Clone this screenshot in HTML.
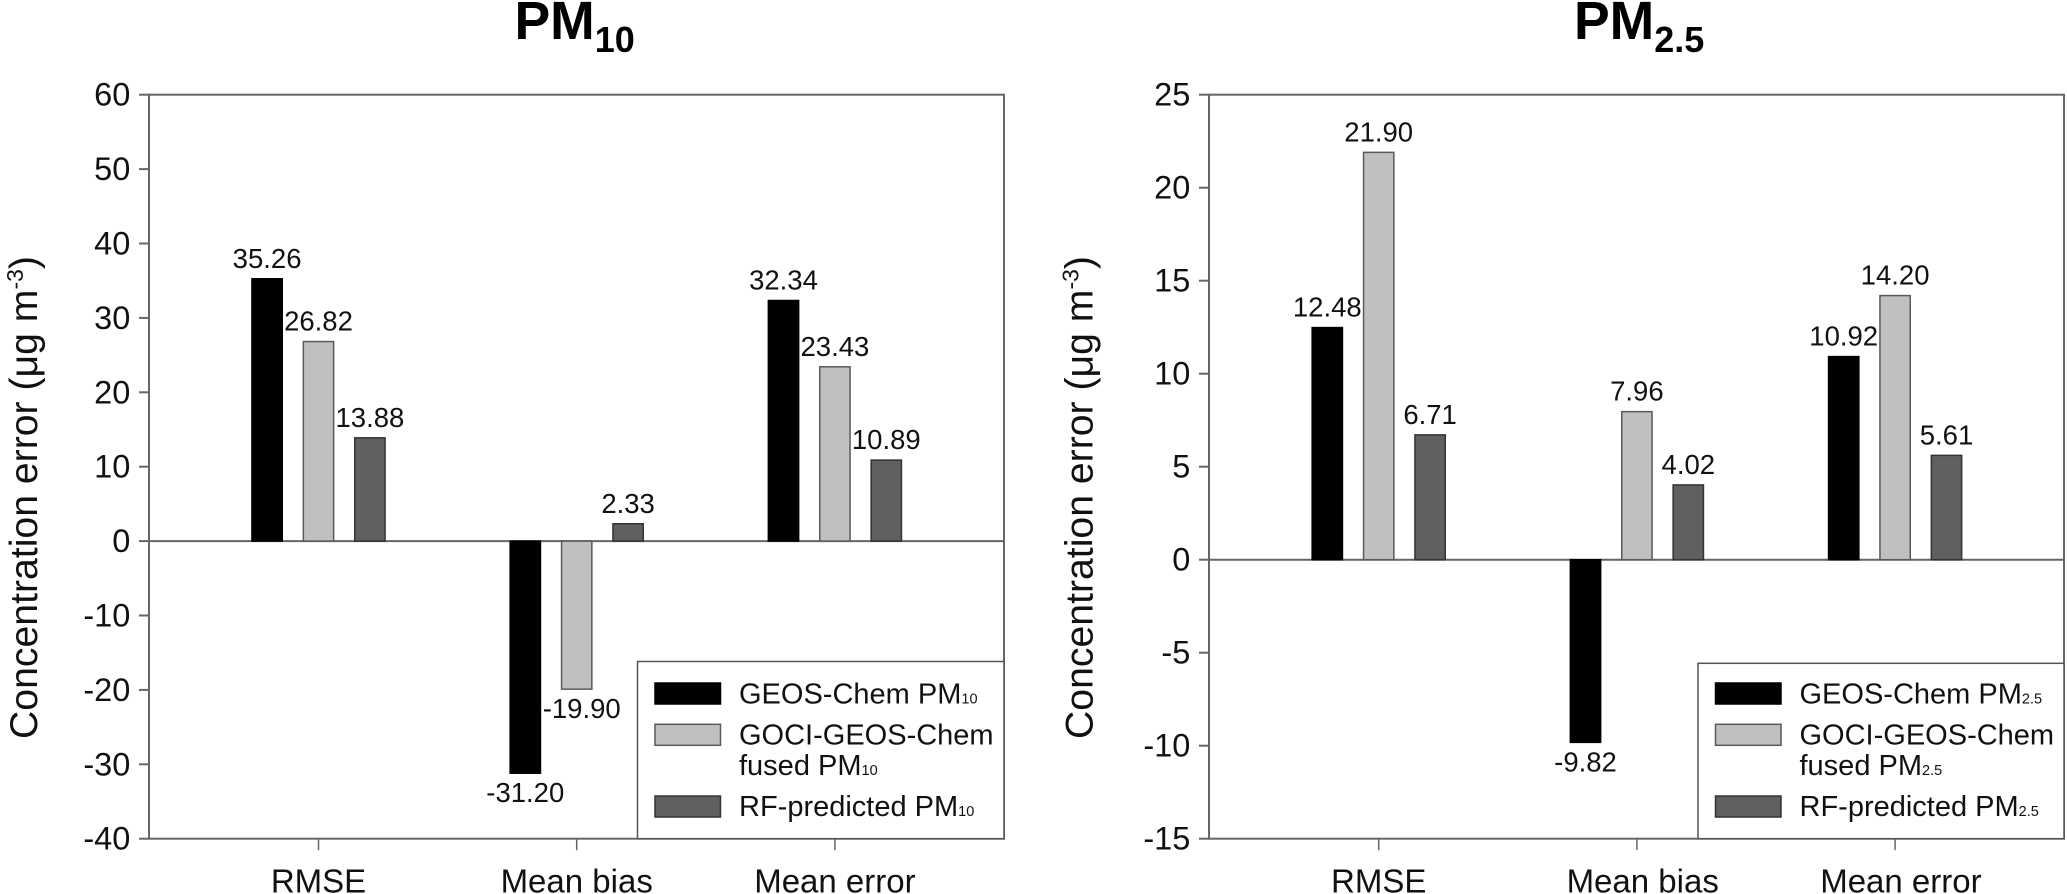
<!DOCTYPE html>
<html lang="en">
<head>
<meta charset="utf-8">
<title>PM10 and PM2.5 concentration error</title>
<style>
html,body{margin:0;padding:0;background:#fff;width:2067px;height:894px;overflow:hidden}
svg{display:block;font-family:"Liberation Sans",Arial,sans-serif;fill:#111}
.frame{fill:none;stroke:#666;stroke-width:2}
.leg{font-size:29px}
.sub{font-size:14.5px}
.title{font-size:53.5px;font-weight:bold;fill:#000}
.tsub{font-size:36px;font-weight:bold;fill:#000}
.ytitle{font-size:39.2px}
.ysup{font-size:23px}
</style>
</head>
<body>
<svg id="chart" xmlns="http://www.w3.org/2000/svg" width="2067" height="894" viewBox="0 0 2067 894">
  <g id="panel-pm10">
    <text class="title" x="514.5" y="39">PM<tspan class="tsub" dy="13">10</tspan></text>
    <text class="ytitle" transform="translate(37 739) rotate(-90)">Concentration error (μg m<tspan class="ysup" dy="-14">-3</tspan><tspan dy="14">)</tspan></text>
    <rect class="frame" x="149" y="94.7" width="855" height="744"/>
  </g>
  <g id="panel-pm25">
    <text class="title" x="1574" y="39">PM<tspan class="tsub" dy="13">2.5</tspan></text>
    <text class="ytitle" transform="translate(1092.5 739) rotate(-90)">Concentration error (μg m<tspan class="ysup" dy="-14">-3</tspan><tspan dy="14">)</tspan></text>
    <rect class="frame" x="1209" y="94.7" width="855" height="744"/>
  </g>
</svg>
<script>
var categories = ["RMSE", "Mean bias", "Mean error"];
var pm10Geos = [35.26, -31.20, 32.34];
var pm10Fused = [26.82, -19.90, 23.43];
var pm10Rf = [13.88, 2.33, 10.89];
var pm25Geos = [12.48, -9.82, 10.92];
var pm25Fused = [21.90, 7.96, 14.20];
var pm25Rf = [6.71, 4.02, 5.61];
var pm10Ticks = [60, 50, 40, 30, 20, 10, 0, -10, -20, -30, -40];
var pm25Ticks = [25, 20, 15, 10, 5, 0, -5, -10, -15];
var pm10Legend = ["GEOS-Chem PM", "GOCI-GEOS-Chem", "RF-predicted PM"];
var pm25Legend = ["GEOS-Chem PM", "GOCI-GEOS-Chem", "RF-predicted PM"];
var legendFusedLine = "fused PM";

var SVGNS = "http://www.w3.org/2000/svg";
var seriesFill = ["#000000", "#c0c0c0", "#606060"];
var seriesStroke = ["#000000", "#5a5a5a", "#333333"];

function make(parent, tag, attrs, text) {
  var node = document.createElementNS(SVGNS, tag);
  for (var k in attrs) node.setAttribute(k, attrs[k]);
  if (text !== undefined) node.textContent = text;
  parent.appendChild(node);
  return node;
}

function drawPanel(panelId, prefix, left, firstCenter, series, ticks, subscript, legendItems, legendLeft, legendTop, catNudge) {
  var panel = document.getElementById(panelId);
  var top = 94.7, bottom = 838.7, right = left + 855;
  var maxTick = ticks[0], minTick = ticks[ticks.length - 1];
  function yScale(v) { return top + (maxTick - v) * (bottom - top) / (maxTick - minTick); }
  function xCenter(i) { return firstCenter + i * 258.2; }
  var barWidth = 30.3, barPitch = 51.4;

  ticks.forEach(function (t) {
    var tickLine = make(panel, "line", {x1: left - 10, x2: left, y1: yScale(t), y2: yScale(t), stroke: "#666", "stroke-width": 2});
    
    
    var tickLabel = make(panel, "text", {x: left - 18.7, y: yScale(t) + 11, "text-anchor": "end", "font-size": 32.5}, String(t));
    
    
  });

  var zero = make(panel, "line", {x1: left, x2: right, y1: yScale(0), y2: yScale(0), stroke: "#666", "stroke-width": 2});
  
  

  categories.forEach(function (cat, i) {
    var xTick = make(panel, "line", {x1: xCenter(i), x2: xCenter(i), y1: bottom, y2: bottom + 11.5, stroke: "#666", "stroke-width": 1.5});
    
    
    var xLabel = make(panel, "text", {x: xCenter(i) + (i > 0 ? catNudge : 0), y: 892.7, "text-anchor": "middle", "font-size": 33}, cat);
    
    

    series.forEach(function (values, s) {
      var v = values[i];
      var cx = xCenter(i) + (s - 1) * barPitch;
      var y0 = yScale(0), y1 = yScale(v);
      var bar = make(panel, "rect", {x: cx - barWidth / 2, y: Math.min(y0, y1), width: barWidth, height: Math.abs(y1 - y0), fill: seriesFill[s], stroke: seriesStroke[s], "stroke-width": 1.5});
      
      
      var labelDx = (v < 0 && s === 1) ? 5 : 0;
      var labelY = v >= 0 ? y1 - 11 : y1 + 29;
      var valueLabel = make(panel, "text", {x: cx + labelDx, y: labelY, "text-anchor": "middle", "font-size": 27.5}, v.toFixed(2));
      
      
    });
  });

  var legend = make(panel, "g", {});
  
  
  var box = make(legend, "rect", {x: legendLeft, y: legendTop, width: right - legendLeft, height: bottom - legendTop, fill: "#fff", stroke: "#555", "stroke-width": 1.5});
  
  

  var swatchTops = [683, 724.3, 796];
  var textBases = [703.3, 744.3, 816];
  var swatchX = legendLeft + 17.5;
  var textX = legendLeft + 101.5;
  legendItems.forEach(function (name, s) {
    var swatch = make(legend, "rect", {x: swatchX, y: swatchTops[s], width: 65.5, height: 21, fill: seriesFill[s], stroke: seriesStroke[s], "stroke-width": 1.5});
    
    
    var entry = make(legend, "text", {x: textX, y: textBases[s], "class": "leg"}, name);
    
    
    if (s !== 1) make(entry, "tspan", {"class": "sub"}, subscript);
  });
  var fused = make(legend, "text", {x: textX, y: 775, "class": "leg"}, legendFusedLine);
  
  
  make(fused, "tspan", {"class": "sub"}, subscript);
}

drawPanel("panel-pm10", "pm10", 149, 318.5, [pm10Geos, pm10Fused, pm10Rf], pm10Ticks, "10", pm10Legend, 637.5, 661.5, 0);
drawPanel("panel-pm25", "pm25", 1209, 1378.7, [pm25Geos, pm25Fused, pm25Rf], pm25Ticks, "2.5", pm25Legend, 1698, 663.3, 5.8);
</script>
</body>
</html>
